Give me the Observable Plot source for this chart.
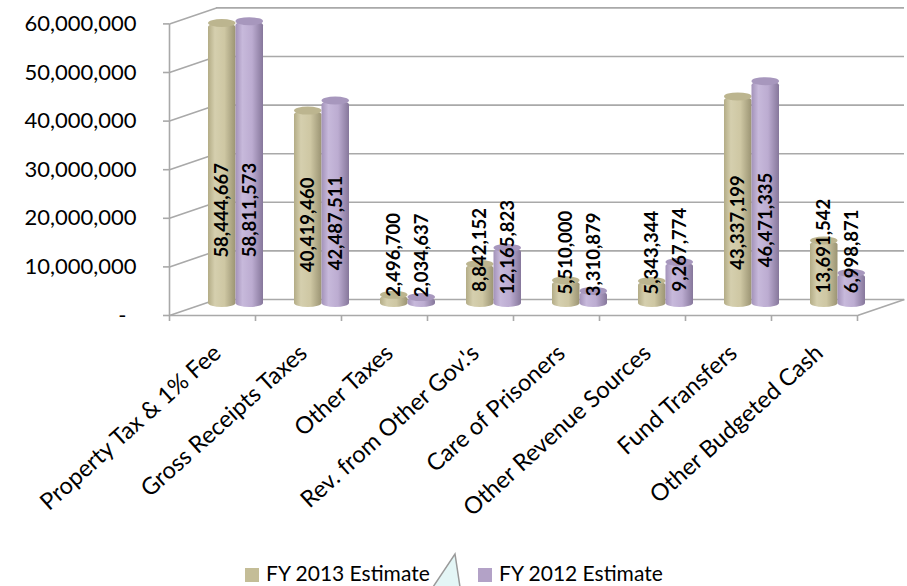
<!DOCTYPE html>
<html><head><meta charset="utf-8">
<script src="https://cdn.jsdelivr.net/npm/d3@7"></script>
<script src="https://cdn.jsdelivr.net/npm/@observablehq/plot@0.6"></script>
<style>
body{margin:0;background:#fff;}
#wrap{position:relative;width:907px;height:586px;font-family:Lato, "Open Sans", sans-serif;overflow:hidden;}
#chart{position:absolute;left:0;top:0;}
.leg{position:absolute;top:562px;font-size:21px;line-height:21px;color:#000;white-space:nowrap;}
.sw{display:inline-block;width:14px;height:14px;margin-right:7px;vertical-align:-1px;}
#tri{position:absolute;left:0;top:0;}
</style></head>
<body><div id="wrap"><div id="chart"></div>
<svg id="tri" width="907" height="586"><polygon points="433,587 455,554 460,587" fill="#e4f6f6" stroke="#9a9a9a" stroke-width="1.5"/></svg>
<div class="leg" id="leg1" style="left:245px"><span class="sw" id="sw1"></span><span id="lt1"></span></div>
<div class="leg" id="leg2" style="left:478px"><span class="sw" id="sw2"></span><span id="lt2"></span></div>
</div>
<script>
const categories = ["Property Tax & 1% Fee","Gross Receipts Taxes","Other Taxes","Rev. from Other Gov.'s","Care of Prisoners","Other Revenue Sources","Fund Transfers","Other Budgeted Cash"];
const fy2013 = [58444667, 40419460, 2496700, 8842152, 5510000, 5343344, 43337199, 13691542];
const fy2012 = [58811573, 42487511, 2034637, 12165823, 3310879, 9267774, 46471335, 6998871];
const seriesNames = ["FY 2013 Estimate", "FY 2012 Estimate"];
const seriesColors = ["#c4bd97", "#b3a2c7"];
const yTicks = [0, 10000000, 20000000, 30000000, 40000000, 50000000, 60000000];

const W = 907, H = 548;
const ML = 192.5, MR = 26.5, MT = 15.4, Y0 = 307;
const MB = H - Y0;
const pxX = (W - ML - MR) / categories.length;       // px per category
const pxV = (Y0 - MT) / 60000000;                     // px per value unit
const DXu = 23.5 / pxX;                               // half depth, x units
const DYv = 8 / pxV;                                  // half depth, value units
const BWpx = 27.5;
const BW = BWpx / pxX;
const capV = 4 / pxV;

const rows = categories.map((c, i) => ({i, cat: c, a: fy2013[i], b: fy2012[i]}));
const fmt = d3.format(",");
const grid = {stroke: "#a9a9a9", strokeWidth: 1.6};

const plot = Plot.plot({
  width: W, height: H,
  marginLeft: ML, marginRight: MR, marginTop: MT, marginBottom: MB,
  style: {fontFamily: "Lato, 'Open Sans', sans-serif", background: "transparent", color: "#000"},
  x: {type: "linear", domain: [0, categories.length], axis: null},
  y: {type: "linear", domain: [0, 60000000], axis: null},
  marks: [
    // back wall gridlines
    Plot.ruleY(yTicks, {y: d => d + DYv, x1: () => DXu, x2: () => categories.length + DXu, ...grid}),
    // side wall diagonals
    Plot.link(yTicks, {x1: () => -DXu, x2: () => DXu, y1: d => d - DYv, y2: d => d + DYv, ...grid}),
    // front tick marks
    Plot.ruleY(yTicks, {y: d => d - DYv, x1: () => -DXu - 6 / pxX, x2: () => -DXu, ...grid}),
    // front vertical axis
    Plot.ruleX([0], {x: () => -DXu, y1: () => -DYv, y2: () => 60000000 - DYv, ...grid}),
    // floor front edge
    Plot.ruleY([0], {y: () => -DYv, x1: () => -DXu, x2: () => categories.length - DXu, ...grid}),
    // floor right edge
    Plot.link([0], {x1: () => categories.length - DXu, x2: () => categories.length + DXu, y1: () => -DYv, y2: () => DYv, ...grid}),
    // category ticks
    Plot.ruleX(d3.range(categories.length + 1), {x: k => k - DXu, y1: () => -DYv, y2: () => -DYv - 6 / pxV, ...grid}),
    // cylinders FY2013
    Plot.rect(rows, {x1: d => d.i + 0.5 - BW, x2: d => d.i + 0.5, y1: () => 0, y2: d => d.a, fill: "url(#gTan)", rx: BWpx / 2, ry: 4}),
    Plot.rect(rows, {x1: d => d.i + 0.5 - BW, x2: d => d.i + 0.5, y1: d => d.a - capV, y2: d => d.a + capV, fill: "#bcb58f", rx: BWpx / 2, ry: 4}),
    // cylinders FY2012
    Plot.rect(rows, {x1: d => d.i + 0.5, x2: d => d.i + 0.5 + BW, y1: () => 0, y2: d => d.b, fill: "url(#gPur)", rx: BWpx / 2, ry: 4}),
    Plot.rect(rows, {x1: d => d.i + 0.5, x2: d => d.i + 0.5 + BW, y1: d => d.b - capV, y2: d => d.b + capV, fill: "#a797bd", rx: BWpx / 2, ry: 4}),
    // value labels
    Plot.text(rows, {x: d => d.i + 0.5 - BW / 2, y: d => 10400000 + 0.164 * d.a, text: d => fmt(d.a), rotate: -90, fontWeight: "bold", fontSize: 18.5, fill: "#000"}),
    Plot.text(rows, {x: d => d.i + 0.5 + BW / 2, y: d => 10400000 + 0.164 * d.b, text: d => fmt(d.b), rotate: -90, fontWeight: "bold", fontSize: 18.5, fill: "#000"}),
    // y tick labels
    Plot.text(yTicks.filter(v => v > 0), {x: () => -DXu, y: d => d - DYv, text: d => fmt(d), textAnchor: "end", dx: -33, fontSize: 22, fill: "#000"}),
    Plot.text([0], {x: () => -DXu, y: () => -DYv, text: () => "-", textAnchor: "end", dx: -43, fontSize: 22, fill: "#000"}),
    // category labels
    Plot.text(categories, {x: (d, i) => i + 0.5 - DXu, y: () => -DYv, text: d => d, rotate: -42, textAnchor: "end", dx: 5, dy: 34, fontSize: 23.5, fill: "#000"})
  ]
});

const defs = d3.select(plot).insert("defs", ":first-child");
function grad(id, stops) {
  const g = defs.append("linearGradient").attr("id", id).attr("x1", "0").attr("x2", "1").attr("y1", "0").attr("y2", "0");
  stops.forEach(([o, c]) => g.append("stop").attr("offset", o).attr("stop-color", c));
}
grad("gTan", [[0, "#b3ac86"], [0.25, "#d5cfae"], [0.6, "#cec7a3"], [1, "#9b9473"]]);
grad("gPur", [[0, "#a392b9"], [0.25, "#c7b9db"], [0.6, "#bcacd1"], [1, "#86779b"]]);

document.getElementById("chart").appendChild(plot);
document.getElementById("sw1").style.background = seriesColors[0];
document.getElementById("sw2").style.background = seriesColors[1];
document.getElementById("lt1").textContent = seriesNames[0];
document.getElementById("lt2").textContent = seriesNames[1];
</script>
</body></html>
